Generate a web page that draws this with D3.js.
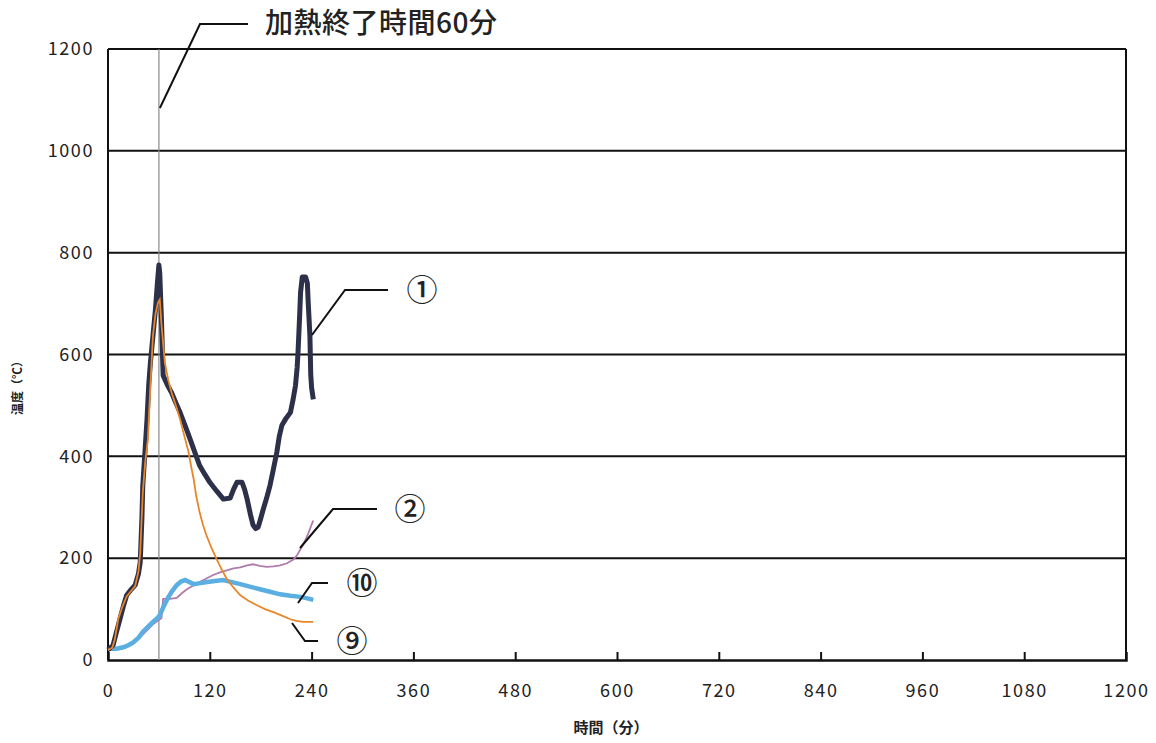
<!DOCTYPE html>
<html>
<head>
<meta charset="utf-8">
<script src="https://cdn.jsdelivr.net/npm/d3@7"></script>
<style>
  html, body { margin: 0; padding: 0; background: #fff; }
  svg { display: block; }
  text { font-family: "Noto Sans CJK JP", "Noto Sans", sans-serif; fill: #222; }
</style>
</head>
<body>
<svg id="chart" width="1156" height="743"></svg>
<script>
// Temperature records (minutes, °C) for measuring points ①, ②, ⑨, ⑩
const series1 = [
  [0,20],[6,29],[10,55],[14,80],[18,105],[22,127],[27,138],[32,147],[36,170],[38,192],[40,280],
  [41,343],[44,420],[46,473],[48,540],[50,584],[53,637],[56,690],[58,735],[60,776],[61,760],
  [63,669],[65,559],[70,540],[75,525],[80,505],[85,486],[91,460],[97,433],[103,405],[108,382],
  [114,365],[120,349],[128,332],[136,316],[144,318],[148,335],[152,349],[158,349],[161,335],
  [164,316],[168,285],[171,265],[174,258],[177,261],[180,278],[183,296],[187,318],[191,343],
  [195,375],[199,408],[202,440],[205,461],[210,475],[215,486],[218,510],[221,539],[223,575],
  [224,604],[226,680],[227,722],[229,752],[233,752],[235,740],[236,702],[237,670],[238,637],
  [239,560],[240,535],[242,512]
];
const series2 = [
  [0,20],[10,21],[20,24],[30,32],[41,50],[53,70],[61,80],[63,82],[65,120],[73,120],[81,122],
  [87,131],[93,139],[100,146],[108,153],[116,160],[124,167],[132,172],[140,176],[148,180],
  [156,182],[164,186],[171,188],[179,185],[187,183],[195,184],[203,186],[211,190],[219,198],
  [223,206],[227,218],[230,226],[233,237],[236,248],[238,257],[240,266],[242,274]
];
const series9 = [
  [0,20],[5,24],[8,40],[12,80],[17,105],[22,125],[27,135],[32,145],[36,175],[38,212],[41,329],
  [44,390],[47,433],[50,539],[53,637],[56,680],[59,702],[61,708],[63,660],[67,584],[71,550],
  [75,525],[80,500],[85,473],[90,440],[95,408],[98,380],[101,355],[104,322],[108,290],
  [112,265],[116,245],[122,220],[128,198],[134,178],[140,159],[148,142],[156,127],[165,117],
  [175,108],[185,100],[195,94],[205,87],[215,80],[222,77],[230,75],[242,75]
];
const series10 = [
  [0,22],[10,22],[18,25],[24,29],[30,35],[36,44],[41,55],[47,65],[53,75],[58,82],[61,88],
  [65,103],[70,120],[75,134],[81,147],[86,154],[91,157],[96,153],[101,149],[109,151],
  [117,153],[126,155],[136,157],[146,153],[156,149],[167,144],[179,139],[191,134],[203,129],
  [215,126],[227,124],[235,121],[242,118]
];

const xTicks = [0,120,240,360,480,600,720,840,960,1080,1200];
const yTicks = [0,200,400,600,800,1000,1200];
const heatEnd = 60;
const titleText = "加熱終了時間60分";
const xLabel = "時間（分）";
const yLabel = "温度（℃）";

const svg = d3.select("#chart");
const x = d3.scaleLinear().domain([0,1200]).range([108,1126]);
const y = d3.scaleLinear().domain([0,1200]).range([660,49]);

// horizontal grid lines and top border
svg.append("g").selectAll("line").data(yTicks.filter(d => d > 0)).join("line")
  .attr("x1", x(0)).attr("x2", x(1200))
  .attr("y1", d => y(d)).attr("y2", d => y(d))
  .attr("stroke", "#111").attr("stroke-width", 2);

// frame: left, right
svg.append("line").attr("x1", x(0)).attr("x2", x(0)).attr("y1", y(1200)).attr("y2", y(0))
  .attr("stroke", "#111").attr("stroke-width", 2);
svg.append("line").attr("x1", x(1200)).attr("x2", x(1200)).attr("y1", y(1200)).attr("y2", y(0))
  .attr("stroke", "#111").attr("stroke-width", 2);

const tickFont = sel => sel.attr("font-size", 18).attr("fill", "#222")
  .style("font-family", "'Noto Sans CJK JP', sans-serif").style("letter-spacing", "1.6px");

// x axis with inward ticks
const xAxis = d3.axisBottom(x).tickValues(xTicks).tickSize(-8).tickPadding(24).tickFormat(d3.format("d"));
const gx = svg.append("g").attr("transform", `translate(0,${y(0)})`).call(xAxis);
gx.select(".domain").attr("stroke", "#111").attr("stroke-width", 2.5);
gx.selectAll(".tick line").attr("stroke", "#111").attr("stroke-width", 2);
gx.selectAll(".tick").filter(d => d === 0 || d === 1200).select("line").remove();
gx.selectAll("text").call(tickFont);

// y axis labels
const yAxis = d3.axisLeft(y).tickValues(yTicks).tickSize(0).tickPadding(14).tickFormat(d3.format("d"));
const gy = svg.append("g").attr("transform", `translate(${x(0)},0)`).call(yAxis);
gy.select(".domain").remove();
gy.selectAll("text").call(tickFont);

// heating end marker
svg.append("line").attr("x1", x(heatEnd)).attr("x2", x(heatEnd)).attr("y1", y(1200)).attr("y2", y(0))
  .attr("stroke", "#8a8a8a").attr("stroke-width", 1.2);

const line = d3.line().x(d => x(d[0])).y(d => y(d[1])).curve(d3.curveLinear);

svg.append("path").datum(series2).attr("d", line).attr("fill", "none")
  .attr("stroke", "#b07cab").attr("stroke-width", 1.8);
svg.append("path").datum(series10).attr("d", line).attr("fill", "none")
  .attr("stroke", "#5aaee2").attr("stroke-width", 4.5);
svg.append("path").datum(series1).attr("d", line).attr("fill", "none")
  .attr("stroke", "#2c3048").attr("stroke-width", 5).attr("stroke-linejoin", "round");
svg.append("path").datum(series9).attr("d", line).attr("fill", "none")
  .attr("stroke", "#e8862a").attr("stroke-width", 1.8);

// leader lines and point labels
const leader = (pts) => svg.append("polyline")
  .attr("points", pts.map(p => p.join(",")).join(" "))
  .attr("fill", "none").attr("stroke", "#111").attr("stroke-width", 2);

leader([[x(heatEnd)+1, 108], [200, 24], [248, 24]]);
svg.append("text").attr("x", 265).attr("y", 33).attr("font-size", 28).attr("font-weight", 500)
  .style("letter-spacing", "0.5px").text(titleText);

const pointLabels = [
  { text: "①", pts: [[312,335],[345,290],[388,290]], lx: 422, ly: 290 },
  { text: "②", pts: [[300,548],[333,509],[377,509]], lx: 410, ly: 509 },
  { text: "⑩", pts: [[298,603],[312,583],[328,583]], lx: 362, ly: 583 },
  { text: "⑨", pts: [[292,623],[305,641],[318,641]], lx: 352, ly: 641 }
];
pointLabels.forEach(p => {
  leader(p.pts);
  svg.append("text").attr("x", p.lx).attr("y", p.ly).attr("dy", "0.36em")
    .attr("text-anchor", "middle").attr("font-size", 31).attr("font-weight", 500).text(p.text);
});

// axis titles
svg.append("text").attr("x", 611).attr("y", 733).attr("text-anchor", "middle")
  .attr("font-size", 15).attr("font-weight", 700).text(xLabel);
svg.append("text").attr("transform", "translate(22,385) rotate(-90)").attr("text-anchor", "middle")
  .attr("font-size", 12).attr("font-weight", 700).text(yLabel);
</script>
</body>
</html>
